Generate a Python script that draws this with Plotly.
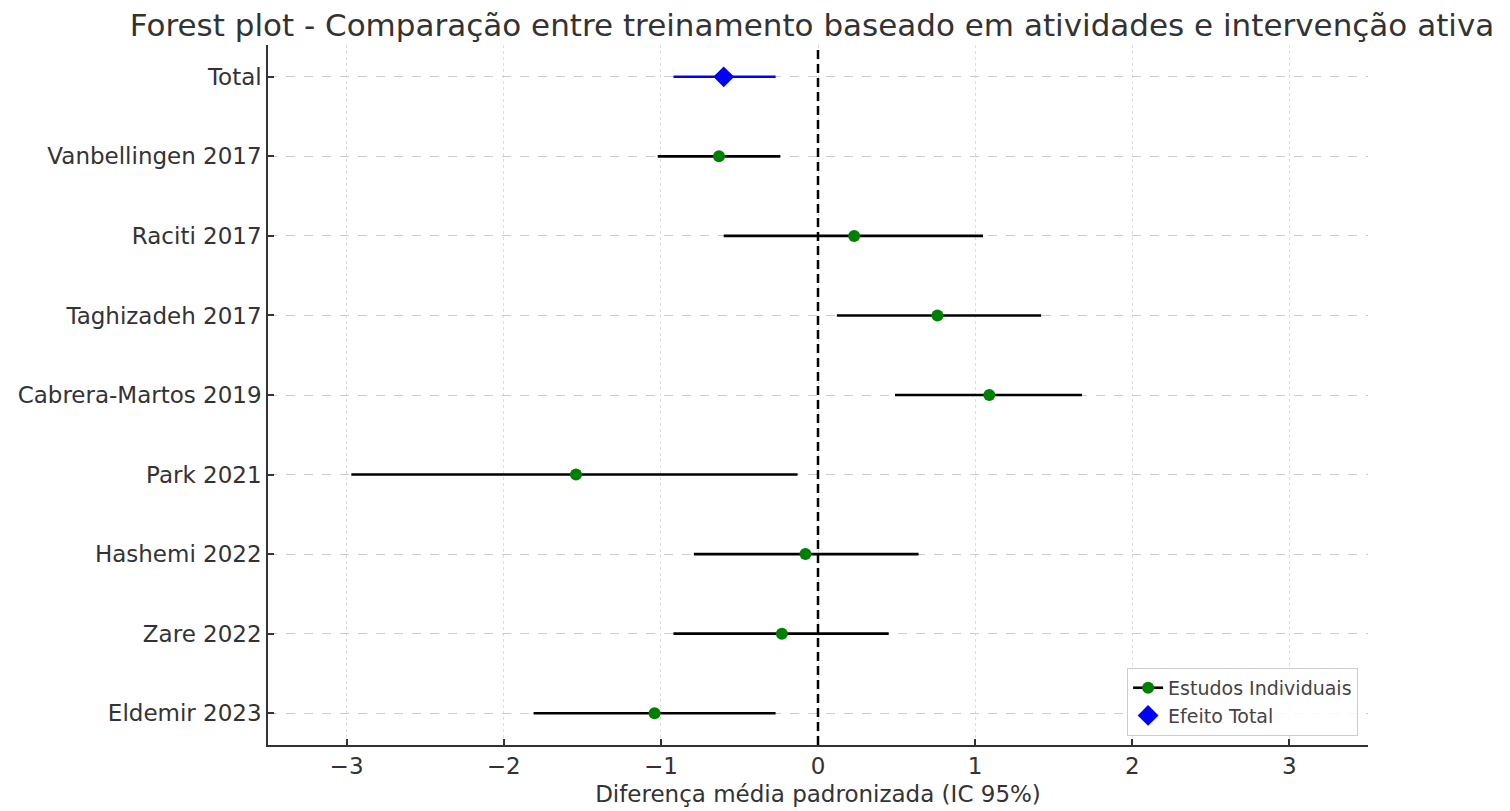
import plotly.graph_objects as go

studies = ["Eldemir 2023", "Zare 2022", "Hashemi 2022", "Park 2021", "Cabrera-Martos 2019",
           "Taghizadeh 2017", "Raciti 2017", "Vanbellingen 2017"]
est = [-1.04, -0.23, -0.08, -1.54, 1.09, 0.76, 0.23, -0.63]
lo = [-1.81, -0.92, -0.79, -2.97, 0.49, 0.12, -0.60, -1.02]
hi = [-0.27, 0.45, 0.64, -0.13, 1.68, 1.42, 1.05, -0.24]

total_label = "Total"
total_est = -0.60
total_lo = -0.92
total_hi = -0.27

xticks = [-3, -2, -1, 0, 1, 2, 3]

ypos = list(range(len(studies)))
ytot = len(studies)

fig = go.Figure()

fig.add_trace(go.Scatter(
    x=est, y=ypos, mode="markers",
    marker=dict(color="green", size=12, symbol="circle"),
    error_x=dict(type="data", symmetric=False,
                 array=[h - e for h, e in zip(hi, est)],
                 arrayminus=[e - l for e, l in zip(est, lo)],
                 color="black", thickness=2.6, width=0),
    showlegend=False,
))
fig.add_trace(go.Scatter(
    x=[total_est], y=[ytot], mode="markers",
    marker=dict(color="blue", size=16, symbol="diamond"),
    error_x=dict(type="data", symmetric=False,
                 array=[total_hi - total_est], arrayminus=[total_est - total_lo],
                 color="blue", thickness=2.6, width=0),
    showlegend=False,
))
# legend entries
fig.add_trace(go.Scatter(
    x=[None], y=[None], mode="lines+markers", name="Estudos Individuais",
    line=dict(color="black", width=2.6),
    marker=dict(color="green", size=12, symbol="circle"),
))
fig.add_trace(go.Scatter(
    x=[None], y=[None], mode="markers", name="Efeito Total",
    marker=dict(color="blue", size=16, symbol="diamond"),
))

fig.add_shape(type="line", x0=0, x1=0, y0=0, y1=1, xref="x", yref="paper",
              line=dict(color="black", width=2.5, dash="9px,5px"))

font_fam = "DejaVu Sans"
fig.update_layout(
    width=1510, height=811,
    margin=dict(l=268, r=142, t=45, b=66, autoexpand=False),
    paper_bgcolor="white", plot_bgcolor="white",
    font=dict(family=font_fam, color="#333333", size=23),
    title=dict(text="Forest plot - Comparação entre treinamento baseado em atividades e intervenção ativa",
               x=812/1510, xanchor="center", xref="container",
               y=1 - 25/811, yanchor="middle", yref="container",
               font=dict(size=31, color="#333333", family=font_fam)),
    legend=dict(x=0.991, xanchor="right", y=0.013, yanchor="bottom",
                bordercolor="#cccccc", borderwidth=1, bgcolor="rgba(255,255,255,0.85)",
                font=dict(size=19, color="#444444"), itemwidth=30,
                entrywidth=240, tracegroupgap=2),
    showlegend=True,
)
fig.update_xaxes(
    range=[-3.5, 3.5], tickvals=xticks,
    ticktext=[("\u2212" + str(abs(v))) if v < 0 else str(v) for v in xticks],
    showgrid=True, gridcolor="#dddddd", gridwidth=1, griddash="dot",
    showline=True, linecolor="#333333", linewidth=1.5, mirror=False,
    ticks="inside", ticklen=6, tickcolor="#333333", tickwidth=1.5,
    zeroline=False, automargin=False,
    title=dict(text="Diferença média padronizada (IC 95%)", font=dict(size=23), standoff=8),
    tickfont=dict(size=23),
)
fig.update_yaxes(
    range=[-0.4, ytot + 0.4],
    tickvals=ypos + [ytot], ticktext=studies + [total_label],
    showgrid=True, gridcolor="#cccccc", gridwidth=1, griddash="dash",
    showline=True, linecolor="#333333", linewidth=1.5,
    ticks="inside", ticklen=6, tickcolor="#333333", tickwidth=1.5,
    zeroline=False, automargin=False, tickfont=dict(size=23),
)

fig.write_html("out.html")
